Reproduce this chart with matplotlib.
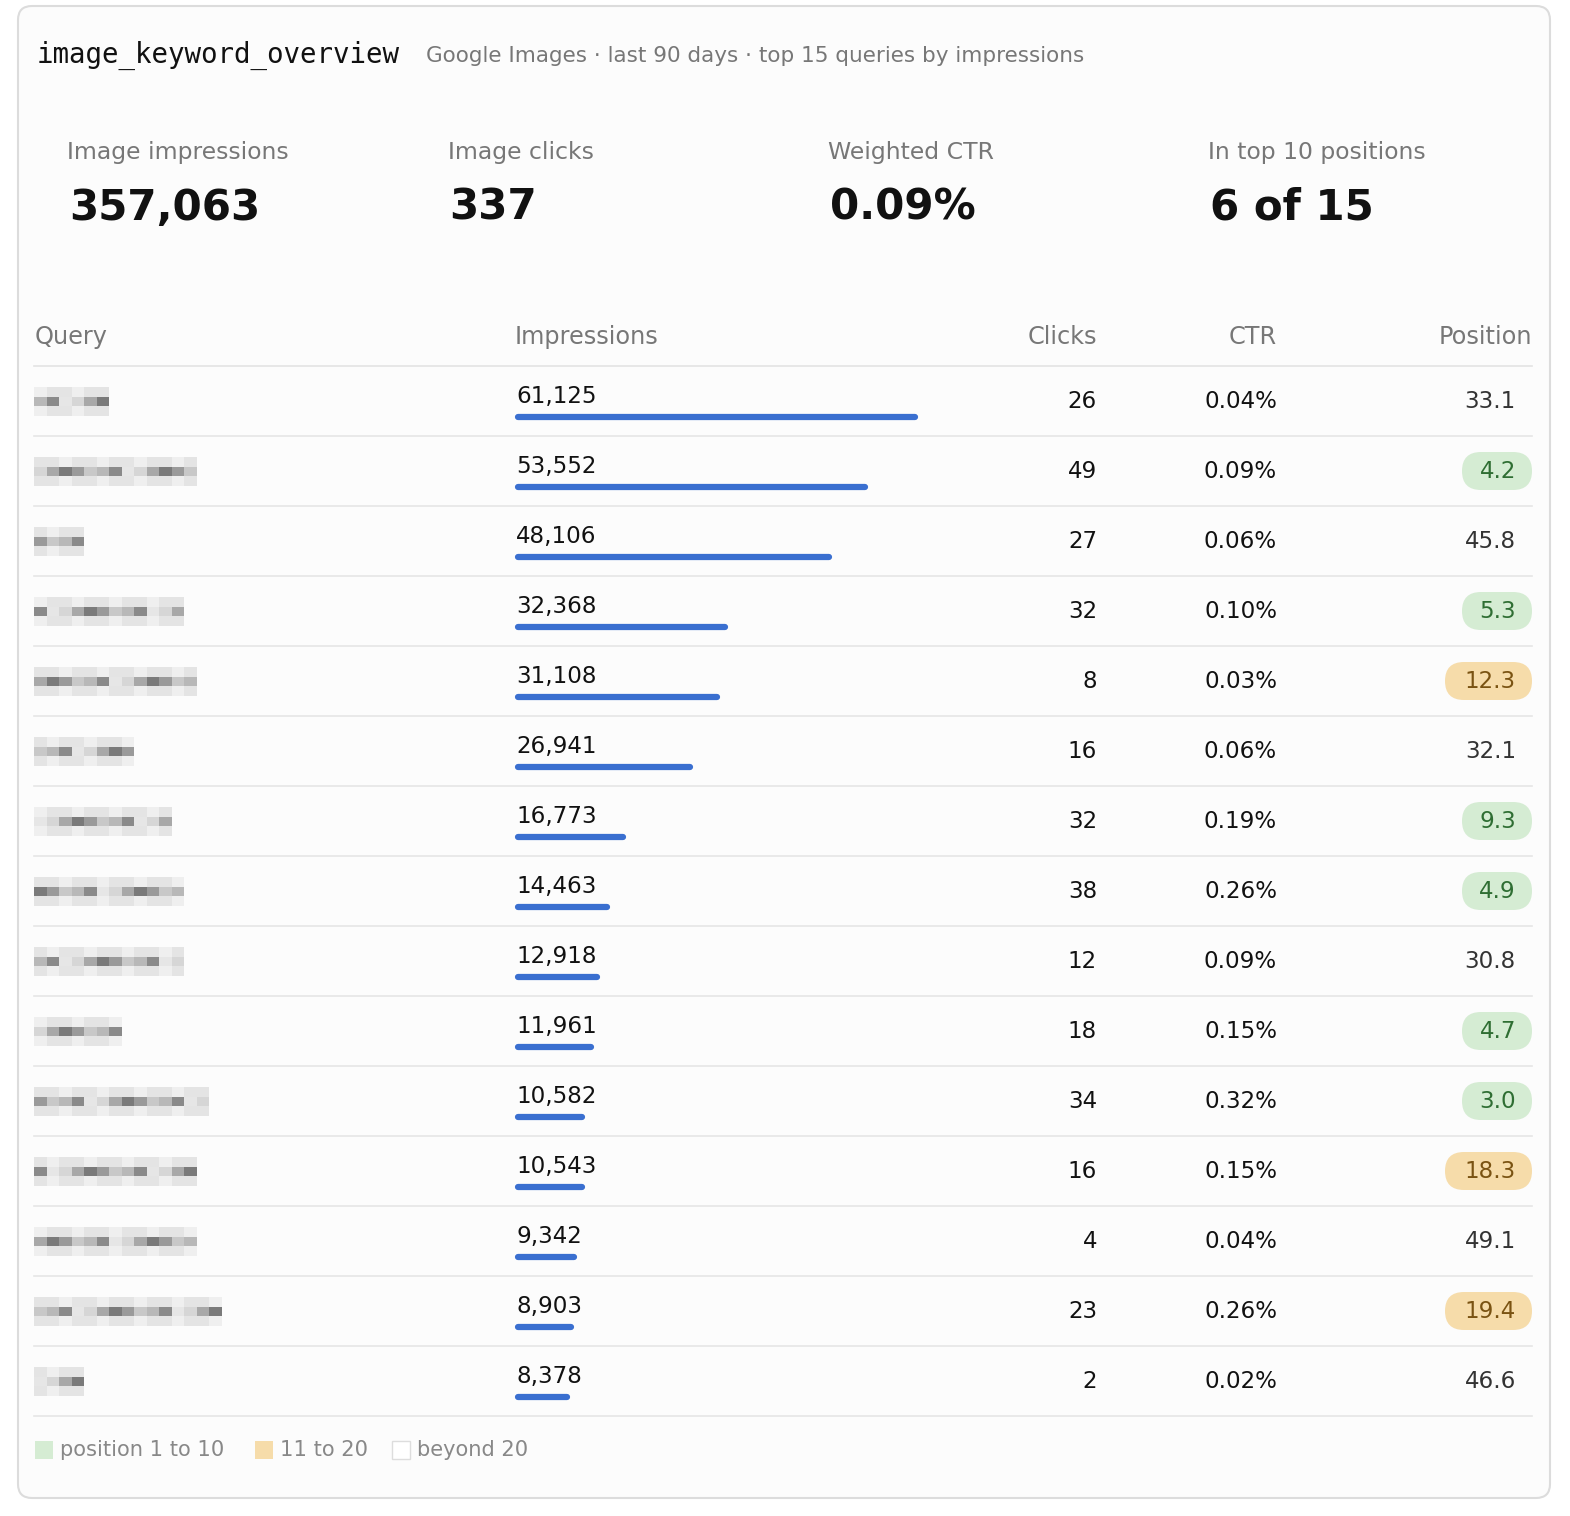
import matplotlib.pyplot as plt
from matplotlib.patches import FancyBboxPatch, Rectangle

impressions = [61125, 53552, 48106, 32368, 31108, 26941, 16773, 14463, 12918, 11961, 10582, 10543, 9342, 8903, 8378]
clicks = [26, 49, 27, 32, 8, 16, 32, 38, 12, 18, 34, 16, 4, 23, 2]
ctr = ["0.04%", "0.09%", "0.06%", "0.10%", "0.03%", "0.06%", "0.19%", "0.26%", "0.09%", "0.15%", "0.32%", "0.15%", "0.04%", "0.26%", "0.02%"]
position = [33.1, 4.2, 45.8, 5.3, 12.3, 32.1, 9.3, 4.9, 30.8, 4.7, 3.0, 18.3, 49.1, 19.4, 46.6]
query_widths = [75, 163, 62, 150, 163, 100, 138, 150, 150, 88, 176, 163, 163, 188, 62]
kpi_labels = ["Image impressions", "Image clicks", "Weighted CTR", "In top 10 positions"]
kpi_values = ["357,063", "337", "0.09%", "6 of 15"]

W, H = 1570, 1516
fig = plt.figure(figsize=(W / 100, H / 100), dpi=100)
ax = fig.add_axes([0, 0, 1, 1])
ax.set_xlim(0, W)
ax.set_ylim(H, 0)
ax.axis("off")
fig.patch.set_facecolor("white")

def pt(px):
    return px * 0.72

ax.add_patch(FancyBboxPatch((18, 6), 1532, 1492, boxstyle="round,pad=0,rounding_size=14",
                            fc="#fcfcfc", ec="#dcdcdc", lw=1.5))

ax.text(37, 55, "image_keyword_overview", family="DejaVu Sans Mono", fontsize=pt(27.5),
        va="center", color="#111")
ax.text(426, 56, "Google Images · last 90 days · top 15 queries by impressions",
        fontsize=pt(21.5), va="center", color="#777")

for i, (lab, val) in enumerate(zip(kpi_labels, kpi_values)):
    x = 67 + i * 380.5
    ax.text(x, 152, lab, fontsize=pt(23.5), va="center", color="#777")
    ax.text(x + 2, 208, val, fontsize=pt(42), va="center", color="#111", fontweight="bold")

hy = 337
hs = pt(24)
ax.text(35, hy, "Query", fontsize=hs, va="center", color="#777")
ax.text(515, hy, "Impressions", fontsize=hs, va="center", color="#777")
ax.text(1097, hy, "Clicks", fontsize=hs, va="center", ha="right", color="#777")
ax.text(1277, hy, "CTR", fontsize=hs, va="center", ha="right", color="#777")
ax.text(1532, hy, "Position", fontsize=hs, va="center", ha="right", color="#777")
ax.plot([34, 1532], [366, 366], color="#e3e3e3", lw=1.2)

grays = ["#8a8a8a", "#a8a8a8", "#c8c8c8", "#e6e6e6", "#7a7a7a", "#b8b8b8", "#d6d6d6", "#9a9a9a"]
scale = 403 / max(impressions)
ns = pt(23)
for i in range(len(impressions)):
    cy = 401 + 70 * i
    # blurred query
    w = query_widths[i]
    cell = 12.5
    n = int(w // cell)
    for k in range(n):
        for r in range(3):
            c = grays[(k * 3 + r * 5 + i) % len(grays)] if r == 1 else ("#e4e4e4" if (k + i) % 3 else "#efefef")
            ax.add_patch(Rectangle((34 + k * cell, cy - 14 + r * 9.5), cell, 9.5, fc=c, ec="none"))
    ax.text(516, cy - 4, f"{impressions[i]:,}", fontsize=ns, va="center", color="#111")
    ax.plot([518, 515 + impressions[i] * scale - 3], [cy + 16, cy + 16], color="#3a6fd0",
            lw=4.5, solid_capstyle="round")
    ax.text(1097, cy, str(clicks[i]), fontsize=ns, va="center", ha="right", color="#111")
    ax.text(1277, cy, ctr[i], fontsize=ns, va="center", ha="right", color="#111")
    p = position[i]
    tc = "#333"
    if p <= 10:
        fc, tc = "#d5ecd3", "#2f6e33"
    elif p <= 20:
        fc, tc = "#f6dcaa", "#7a5312"
    else:
        fc = None
    if fc:
        pw = 70 if p < 10 else 87
        ax.add_patch(FancyBboxPatch((1532 - pw + 19, cy), pw - 38, 0,
                                    boxstyle="round,pad=19", fc=fc, ec="none"))
    ax.text(1516, cy, f"{p:.1f}", fontsize=ns, va="center", ha="right", color=tc)
    ax.plot([34, 1532], [cy + 35, cy + 35], color="#e6e6e6", lw=1.2)

ly = 1450
items = [(35, "#d5ecd3", "none", "position 1 to 10"), (255, "#f6dcaa", "none", "11 to 20"),
         (392, "white", "#dddddd", "beyond 20")]
for x, fc, ec, lab in items:
    ax.add_patch(Rectangle((x, ly - 9), 18, 18, fc=fc, ec=ec, lw=1))
    ax.text(x + 25, ly, lab, fontsize=pt(21), va="center", color="#888")

fig.savefig("out.png", dpi=100)
